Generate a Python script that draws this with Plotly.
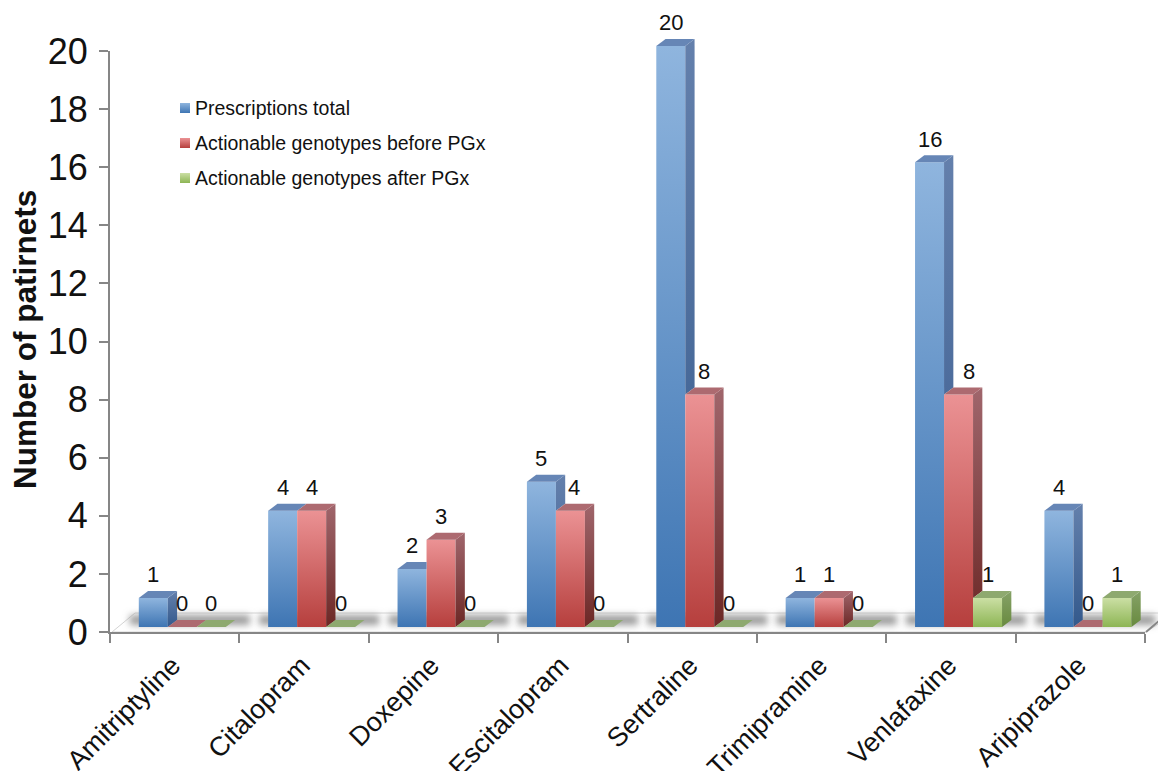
import json
import plotly.graph_objects as go

# Chart data
drugs = ["Amitriptyline", "Citalopram", "Doxepine", "Escitalopram",
         "Sertraline", "Trimipramine", "Venlafaxine", "Aripiprazole"]
series_names = ["Prescriptions total", "Actionable genotypes before PGx",
                "Actionable genotypes after PGx"]
prescriptions_total = [1, 4, 2, 5, 20, 1, 16, 4]
before_pgx = [0, 4, 3, 4, 8, 1, 8, 0]
after_pgx = [0, 0, 0, 0, 0, 0, 1, 1]
y_ticks = [0, 2, 4, 6, 8, 10, 12, 14, 16, 18, 20]
series_values = [prescriptions_total, before_pgx, after_pgx]

# Face colours: front top, front bottom, side top, side bottom, top face
palette = [
    ("#8FB5DE", "#3E75B3", "#6480AC", "#33598C", "#6686B6"),
    ("#EB9294", "#B63F3D", "#A0666C", "#6C2725", "#AD6A70"),
    ("#CBDFA4", "#8DB554", "#86A268", "#688A3E", "#8EA96F"),
]

# Page geometry in pixels
W, H = 1158, 771
M_L, M_R, M_T, M_B = 110, 13, 10, 139
PLOT_W, PLOT_H = W - M_L - M_R, H - M_T - M_B
UNIT_Y = 581 / 20          # pixels per patient
UNIT_X = PLOT_W / 8        # pixels per drug
LIFT = 5                   # bars stand this far above the axis baseline
BAR_PX, DEPTH_X, DEPTH_Y = 29, 9.3, 7
GROUP_SHIFT = 7.6

bar_w = BAR_PX / UNIT_X
dx = DEPTH_X / UNIT_X
dy = DEPTH_Y / UNIT_Y
shift = GROUP_SHIFT / UNIT_X

# Labels moved sideways so they clear a neighbouring bar: (series, drug) -> pixels
label_nudge = {(1, 3): 4, (1, 4): 4, (1, 6): 10}


def px(x):
    return (x - M_L) / PLOT_W


def py(y):
    return (H - M_B - y) / PLOT_H


def lerp(c1, c2, t):
    a = [int(c1[i:i + 2], 16) for i in (1, 3, 5)]
    b = [int(c2[i:i + 2], 16) for i in (1, 3, 5)]
    return "#%02x%02x%02x" % tuple(round(p + (q - p) * t) for p, q in zip(a, b))


fig = go.Figure()
gradients = {}

# Empty trace keeps the labelled y axis attached to the x axis
fig.add_trace(go.Scatter(x=[None], y=[None], xaxis="x", yaxis="y", showlegend=False))

for s, values in enumerate(series_values):
    ftop, fbot, stop_c, sbot, topc = palette[s]
    offset = (s - 1.5) * bar_w + shift
    gradients[f"front{s}"] = (ftop, fbot)
    fig.add_trace(go.Bar(
        x=list(range(len(drugs))), y=values, name=series_names[s], yaxis="y2",
        width=bar_w, offset=offset, marker=dict(color=lerp(ftop, fbot, 0.5), line_width=0),
        meta=f"front{s}", showlegend=False, hoverinfo="x+y",
    ))

# Side and top faces follow the bars, series by series, so nearer bars overlap
for s, values in enumerate(series_values):
    ftop, fbot, stop_c, sbot, topc = palette[s]
    offset = (s - 1.5) * bar_w + shift
    nxt = series_values[s + 1] if s < 2 else [0] * len(values)
    for i, v in enumerate(values):
        x0 = i + offset
        x1 = x0 + bar_w
        n = nxt[i] if s < 2 else 0
        if v > n or (s == 2 and v > 0):
            base = n if s < 2 else 0
            gid = f"side{s}_{i}"
            gradients[gid] = (stop_c, lerp(stop_c, sbot, (v - base) / v))
            fig.add_trace(go.Scatter(
                x=[x1, x1 + dx, x1 + dx, x1, x1],
                y=[v, v + dy, base + dy, base, v],
                mode="lines", line_width=0, fill="toself", fillcolor=stop_c,
                yaxis="y2", meta=gid, showlegend=False, hoverinfo="skip",
            ))
        # A taller neighbour hides the far corner of this bar's top face
        if n > v:
            tx = [x0, x1, x1, x0 + dx, x0]
        else:
            tx = [x0, x1, x1 + dx, x0 + dx, x0]
        fig.add_trace(go.Scatter(
            x=tx, y=[v, v, v + dy, v + dy, v],
            mode="lines", line_width=0, fill="toself", fillcolor=topc,
            yaxis="y2", showlegend=False, hoverinfo="skip",
        ))

# Value labels above each bar
annotations = []
for s, values in enumerate(series_values):
    offset = (s - 1) * bar_w + shift
    for i, v in enumerate(values):
        annotations.append(dict(
            x=i + offset, y=v, xref="x", yref="y2", yshift=23,
            xshift=label_nudge.get((s, i), 0), text=str(v),
            showarrow=False, font=dict(size=22, color="#111111"), yanchor="middle",
        ))

annotations.append(dict(
    x=px(25), y=py(340), xref="paper", yref="paper", text="<b>Number of patirnets</b>",
    textangle=-90, showarrow=False, xanchor="center", yanchor="middle",
    font=dict(size=31.5, color="#111111"),
))

# Floor of the plot: plate, blurred shadow per group, outline
shapes = []
gid_extra = {}
floor_path = (f"M{px(112)},{py(632)} L{px(135)},{py(613)} L{px(1175)},{py(613)} "
              f"L{px(1146)},{py(632)} Z")
shapes.append(dict(type="path", path=floor_path, xref="paper", yref="paper",
                   fillcolor="#ffffff", line=dict(color="#d4d4d4", width=1), layer="below"))
shadow_indices = []
for i in range(len(drugs)):
    left = M_L + UNIT_X * (i + 0.5) + GROUP_SHIFT - 1.5 * BAR_PX
    shadow_indices.append(len(shapes))
    shapes.append(dict(type="rect", xref="paper", yref="paper", layer="below",
                       x0=px(left - 9), x1=px(left + 3 * BAR_PX + 24),
                       y0=py(625), y1=py(615), fillcolor="#9c9c9c", line_width=0))
# Right-hand edge of the floor running out of the page
shapes.append(dict(type="line", xref="paper", yref="paper", layer="below",
                   x0=px(1146), y0=py(632), x1=px(1160), y1=py(620),
                   line=dict(color="#868686", width=2)))

# Legend: swatch and label for each series
legend_rows = [108, 143, 178]
for s, name in enumerate(series_names):
    gid_extra[len(shapes)] = f"front{s}"
    shapes.append(dict(type="rect", xref="paper", yref="paper", layer="above",
                       x0=px(180), x1=px(190), y0=py(legend_rows[s] - 5), y1=py(legend_rows[s] + 5),
                       fillcolor=lerp(palette[s][0], palette[s][1], 0.5), line_width=0))
    annotations.append(dict(
        x=px(193), y=py(legend_rows[s]), xref="paper", yref="paper", text=name,
        showarrow=False, xanchor="left", yanchor="middle",
        font=dict(size=19.5, color="#111111"),
    ))

AXIS_GREY = "#868686"
fig.update_layout(
    template="none",
    width=W, height=H, autosize=False,
    margin=dict(l=M_L, r=M_R, t=M_T, b=M_B, pad=0),
    paper_bgcolor="white", plot_bgcolor="rgba(0,0,0,0)",
    barmode="overlay", showlegend=False,
    font=dict(family="Liberation Sans, Arial, sans-serif", color="#111111"),
    xaxis=dict(
        range=[-0.5, len(drugs) - 0.5], anchor="y", showgrid=False, zeroline=False, automargin=False,
        tickmode="array", tickvals=list(range(len(drugs))), ticktext=drugs,
        tickangle=-45, ticks="", tickfont=dict(size=27), ticklabelstandoff=5, ticklabelshift=-2,
        showline=True, linecolor=AXIS_GREY, linewidth=2,
        minor=dict(tickmode="array", tickvals=[i - 0.5 for i in range(len(drugs) + 1)],
                   ticks="outside", ticklen=9, tickwidth=2, tickcolor=AXIS_GREY, showgrid=False),
    ),
    yaxis=dict(
        domain=[0, 581 / PLOT_H], range=[0, 20], anchor="x", showgrid=False, zeroline=False, automargin=False,
        tickmode="array", tickvals=y_ticks, ticks="outside", ticklen=9, tickwidth=2,
        tickcolor=AXIS_GREY, tickfont=dict(size=36), ticklabelstandoff=4, showline=True,
        linecolor=AXIS_GREY, linewidth=2,
    ),
    yaxis2=dict(
        domain=[LIFT / PLOT_H, (LIFT + 21 * UNIT_Y) / PLOT_H], range=[0, 21], anchor="x",
        visible=False, showgrid=False, zeroline=False, automargin=False,
    ),
    annotations=annotations,
    shapes=shapes,
)

# Vertical gradients and the shadow blur are SVG features, added once the plot exists
post_script = """
var gd = document.getElementById('{plot_id}');
var GRADS = %s, BLUR = %s, SWATCH = %s;
var NS = 'http://www.w3.org/2000/svg';
var defs = gd.querySelector('svg.main-svg defs');
Object.keys(GRADS).forEach(function (id) {
  var g = document.createElementNS(NS, 'linearGradient');
  g.setAttribute('id', 'grad-' + id);
  g.setAttribute('x1', '0'); g.setAttribute('x2', '0');
  g.setAttribute('y1', '0'); g.setAttribute('y2', '1');
  [[0, GRADS[id][0]], [1, GRADS[id][1]]].forEach(function (st) {
    var s = document.createElementNS(NS, 'stop');
    s.setAttribute('offset', st[0]);
    s.setAttribute('stop-color', st[1]);
    g.appendChild(s);
  });
  defs.appendChild(g);
});
var f = document.createElementNS(NS, 'filter');
f.setAttribute('id', 'floor-blur');
f.setAttribute('x', '-20%%'); f.setAttribute('y', '-100%%');
f.setAttribute('width', '140%%'); f.setAttribute('height', '300%%');
var b = document.createElementNS(NS, 'feGaussianBlur');
b.setAttribute('stdDeviation', '3.5');
f.appendChild(b);
defs.appendChild(f);
gd.querySelectorAll('.barlayer .trace').forEach(function (t) {
  var meta = t.__data__[0].trace.meta;
  t.querySelectorAll('.point path').forEach(function (p) {
    p.style.fill = 'url(#grad-' + meta + ')';
  });
});
gd.querySelectorAll('.scatterlayer .trace').forEach(function (t) {
  var meta = t.__data__[0].trace.meta;
  if (!meta) return;
  var p = t.querySelector('.js-fill');
  if (p) p.style.fill = 'url(#grad-' + meta + ')';
});
BLUR.forEach(function (i) {
  var p = gd.querySelector('.shapelayer path[data-index="' + i + '"]');
  if (p) p.style.filter = 'url(#floor-blur)';
});
Object.keys(SWATCH).forEach(function (i) {
  gd.querySelectorAll('.shapelayer path[data-index="' + i + '"]').forEach(function (p) {
    p.style.fill = 'url(#grad-' + SWATCH[i] + ')';
  });
});
""" % (json.dumps(gradients), json.dumps(shadow_indices), json.dumps(gid_extra))

fig.write_html("out.html", post_script=post_script)
